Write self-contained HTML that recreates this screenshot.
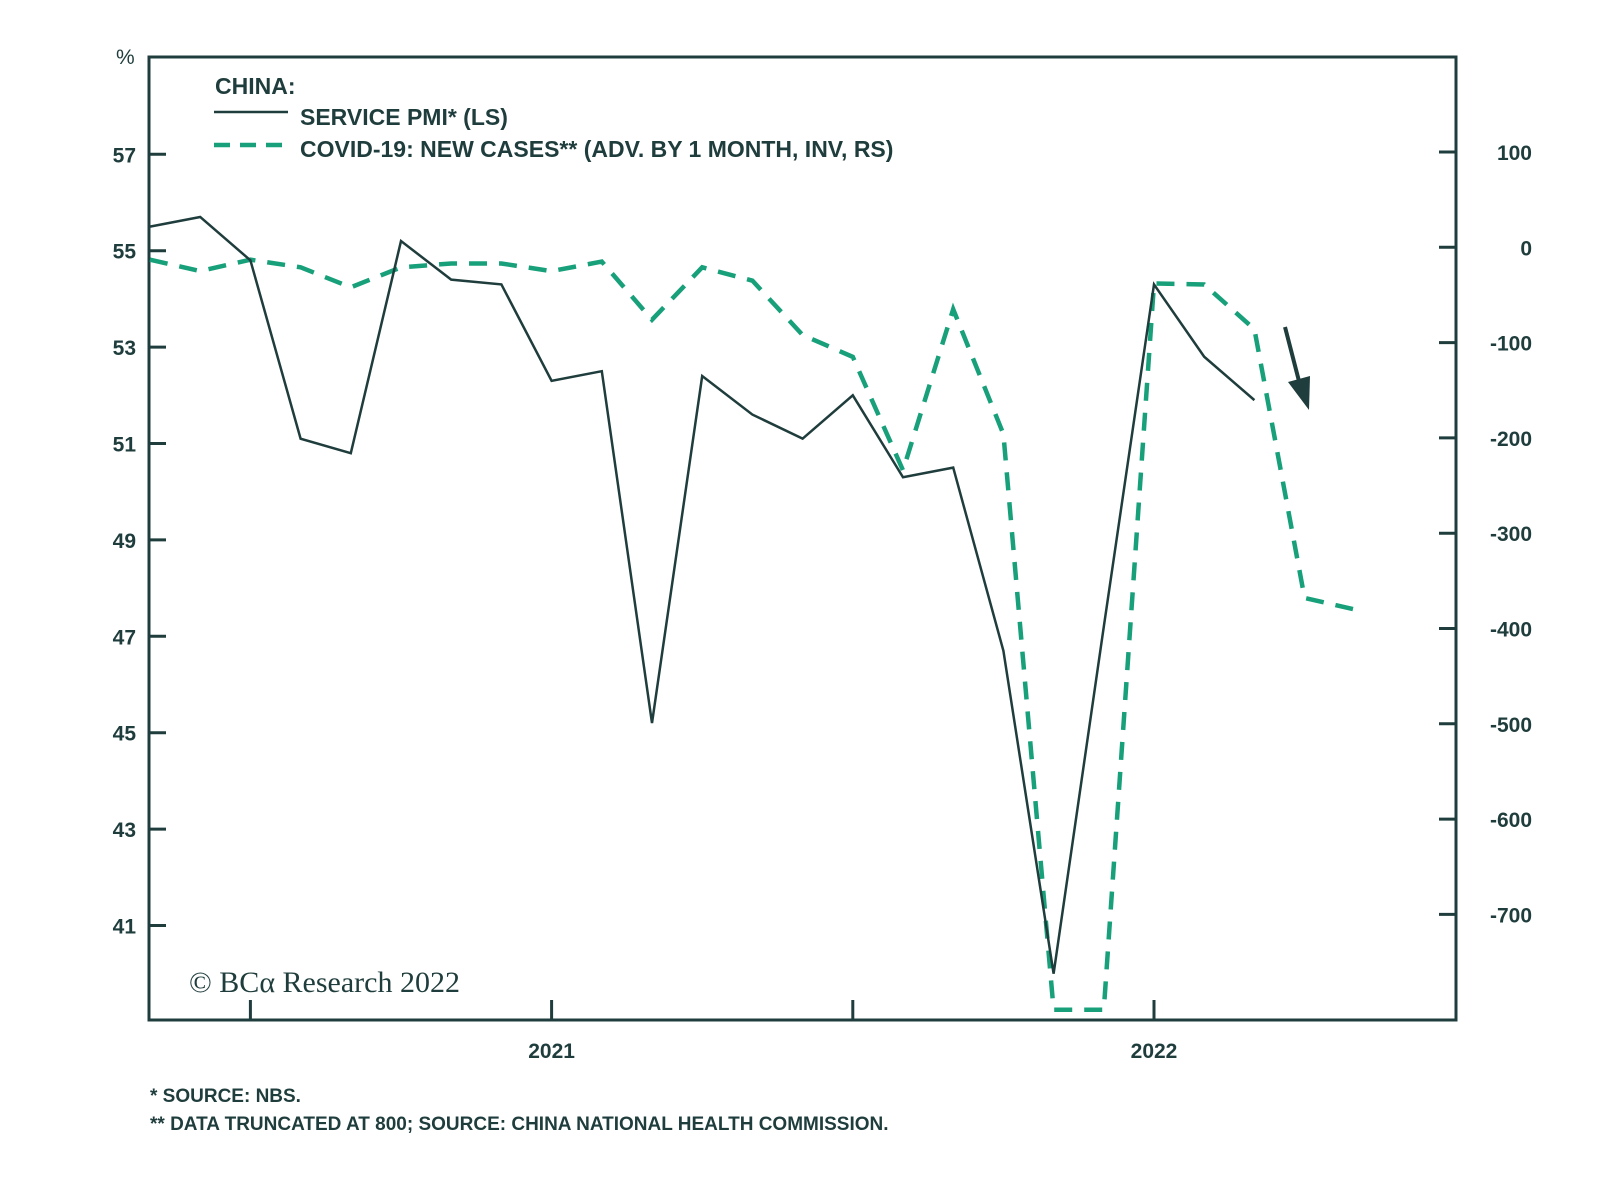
<!DOCTYPE html>
<html><head><meta charset="utf-8"><style>
body{margin:0;background:#fff;}
svg text{font-family:"Liberation Sans",sans-serif;fill:#1f3d3c;}
</style></head><body>
<svg width="1600" height="1177" viewBox="0 0 1600 1177" id="chart" style="position:absolute;left:0;top:0">
<g id="g"></g>
</svg>
<script>
const months = ["2020-05","2020-06","2020-07","2020-08","2020-09","2020-10","2020-11","2020-12","2021-01","2021-02","2021-03","2021-04","2021-05","2021-06","2021-07","2021-08","2021-09","2021-10","2021-11","2021-12","2022-01","2022-02","2022-03","2022-04","2022-05"];
const pmiValues = [55.5,55.7,54.8,51.1,50.8,55.2,54.4,54.3,52.3,52.5,45.2,52.4,51.6,51.1,52.0,50.3,50.5,46.7,40.0,47.2,54.3,52.8,51.9];
const covidValues = [-13,-25,-13,-21,-42,-21,-17,-17,-25,-15,-76,-21,-35,-92,-115,-234,-65,-196,-800,-800,-38,-39,-86,-368,-380];
const leftTicks = [41,43,45,47,49,51,53,55,57];
const rightTicks = [100,0,-100,-200,-300,-400,-500,-600,-700];
const xTickIdx = [2,8,14,20];
const xLabels = [{i:8,t:"2021"},{i:20,t:"2022"}];

const L=149,R=1456,T=57,B=1020;
const xS=i=>150+i*50.2;
const yL=v=>154.3+(57-v)*48.2;
const yR=v=>247.3-v*0.953;
const NS="http://www.w3.org/2000/svg";
const g=document.getElementById('g');
function mk(tag,attrs,parent){const e=document.createElementNS(NS,tag);for(const k in attrs)e.setAttribute(k,attrs[k]);(parent||g).appendChild(e);return e;}
const dark="#1f3d3c",green="#17a07a";

let e=mk('path',{d:`M${L},${T}H${R}V${B}H${L}Z`,fill:"none",stroke:dark,"stroke-width":3});



leftTicks.forEach(v=>{
 const y=yL(v);
 let t=mk('line',{x1:L,x2:L+17,y1:y,y2:y,stroke:dark,"stroke-width":3});
 
 
 let tx=mk('text',{x:136,y:y+8,"text-anchor":"end","font-size":21,"font-weight":"bold"});
 tx.textContent=v;
 
 
});
rightTicks.forEach(v=>{
 const y=yR(v);
 let t=mk('line',{x1:R-17,x2:R,y1:y,y2:y,stroke:dark,"stroke-width":3});
 
 
 let tx=mk('text',{x:1532,y:y+8,"text-anchor":"end","font-size":21,"font-weight":"bold"});
 tx.textContent=v;
 
 
});
xTickIdx.forEach(i=>{
 const x=xS(i);
 let t=mk('line',{x1:x,x2:x,y1:B,y2:B-20,stroke:dark,"stroke-width":3});
 
 
});
xLabels.forEach(o=>{
 let tx=mk('text',{x:xS(o.i),y:1058,"text-anchor":"middle","font-size":21,"font-weight":"bold"});
 tx.textContent=o.t;
 
 
});

let pc=mk('polyline',{points:covidValues.map((v,i)=>xS(i)+","+yR(v)).join(" "),fill:"none",stroke:green,"stroke-width":4.5,"stroke-dasharray":"18,12"});


let pp=mk('polyline',{points:pmiValues.map((v,i)=>xS(i)+","+yL(v)).join(" "),fill:"none",stroke:dark,"stroke-width":2.5});



let ar=mk('g',{});


mk('line',{x1:1285,y1:327,x2:1300,y2:385,stroke:dark,"stroke-width":4},ar);
mk('polygon',{points:"1309,410 1288,382 1310,376",fill:dark},ar);
</script>
<svg width="1600" height="1177" style="position:absolute;left:0;top:0">
<text x="116" y="64" font-size="21" style="font-family:'Liberation Sans',sans-serif;fill:#1f3d3c">%</text>
<g style="font-family:'Liberation Sans',sans-serif;fill:#1f3d3c" font-size="23" font-weight="bold" letter-spacing="0">
<text x="215" y="94">CHINA:</text>
<line x1="214" y1="112" x2="288" y2="112" stroke="#1f3d3c" stroke-width="2.5"/>
<text x="300" y="125">SERVICE PMI* (LS)</text>
<line x1="214" y1="145" x2="290" y2="145" stroke="#17a07a" stroke-width="4.5" stroke-dasharray="16,10"/>
<text x="300" y="157">COVID-19: NEW CASES** (ADV. BY 1 MONTH, INV, RS)</text>
</g>
<text x="189" y="992" font-size="30" style="font-family:'Liberation Serif',serif;fill:#1f3d3c">© BCα Research 2022</text>
<text x="150" y="1102" font-size="19" font-weight="bold" letter-spacing="0" style="font-family:'Liberation Sans',sans-serif;fill:#1f3d3c">*  SOURCE: NBS.</text>
<text x="150" y="1130" font-size="19" font-weight="bold" letter-spacing="0" style="font-family:'Liberation Sans',sans-serif;fill:#1f3d3c">** DATA TRUNCATED AT 800; SOURCE: CHINA NATIONAL HEALTH COMMISSION.</text>
</svg>
</body></html>
